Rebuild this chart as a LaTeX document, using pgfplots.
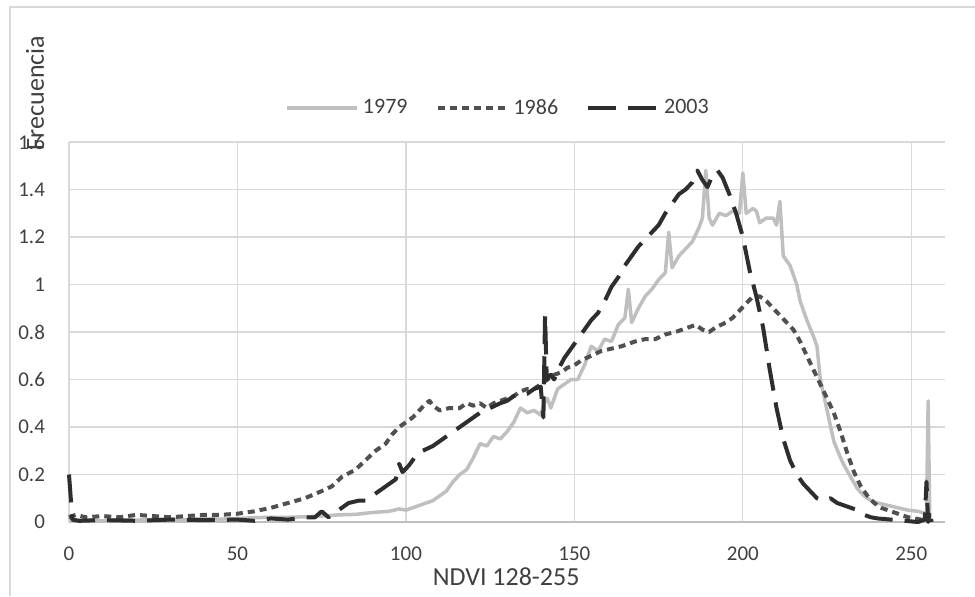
\documentclass[border=0pt]{standalone}
\usepackage{fontspec}
\setmainfont{Carlito}
\usepackage{pgfplots}
\pgfplotsset{compat=1.18}

\definecolor{gridc}{HTML}{D9D9D9}
\definecolor{textc}{HTML}{404040}
\definecolor{c79}{HTML}{BFBFBF}
\definecolor{c86}{HTML}{505050}
\definecolor{c03}{HTML}{2E2E2E}

\begin{document}
\begin{tikzpicture}
\path[use as bounding box] (-34.5pt,-37pt) rectangle (453pt,261pt);
\draw[gridc, line width=1pt] (-29.5pt,-37pt) -- (-29.5pt,257.25pt) -- (453pt,257.25pt);
\begin{axis}[
    at={(0,0)}, anchor=south west,
    scale only axis,
    width=438pt, height=190pt,
    xmin=0, xmax=260,
    ymin=0, ymax=1.6,
    xtick={0,50,100,150,200,250},
    ytick={0,0.2,0.4,0.6,0.8,1,1.2,1.4,1.6},
    grid=major,
    major grid style={gridc, line width=0.6pt},
    axis lines*=left,
    x axis line style={c79, line width=0.8pt, -},
    y axis line style={draw=none},
    major tick length=0pt,
    /pgf/number format/assume math mode=true,
    tick label style={font=\fontsize{10.5}{12}\selectfont, text=textc},
    yticklabel style={xshift=-8.5pt},
    xticklabel style={yshift=-9pt},
    xlabel={NDVI 128-255},
    ylabel={Frecuencia},
    label style={font=\fontsize{13}{15}\selectfont, text=textc},
    xlabel style={at={(rel axis cs:0.499,0)}, anchor=center, yshift=-27.5pt},
    ylabel style={at={(rel axis cs:0,1.129)}, anchor=center, yshift=17pt},
    legend columns=3,
    legend style={at={(rel axis cs:0.491,1.089)}, anchor=center, draw=none, fill=none,
        font=\fontsize{11}{13}\selectfont, text=textc,
        /tikz/every even column/.append style={column sep=12pt}},
    legend image code/.code={\draw[#1] (0pt,0pt) -- (35pt,0pt);},
    clip=false,
]
\addplot[c79, line width=1.75pt, line join=round] coordinates {
(0,0.02) (1,0.005) (5,0.01) (10,0.005) (15,0.01) (20,0.008) (25,0.01) (30,0.012) (35,0.01)
(40,0.015) (45,0.012) (50,0.015) (55,0.018) (60,0.02) (65,0.02) (70,0.022) (75,0.025)
(80,0.03) (85,0.032) (90,0.04) (95,0.045) (98,0.055) (100,0.05) (102,0.06) (105,0.075)
(108,0.09) (110,0.11) (112,0.13) (114,0.17) (116,0.2) (118,0.22) (120,0.27) (122,0.33)
(124,0.32) (126,0.36) (128,0.35) (130,0.38) (132,0.42) (134,0.48) (136,0.46) (138,0.47)
(140,0.45) (141,0.5) (142,0.52) (143,0.48) (145,0.56) (147,0.58) (149,0.6) (151,0.6)
(153,0.66) (155,0.74) (157,0.72) (159,0.77) (161,0.76) (163,0.83) (165,0.86) (166,0.98)
(167,0.84) (169,0.9) (171,0.95) (173,0.98) (175,1.02) (177,1.05) (178,1.22) (179,1.07)
(181,1.12) (183,1.15) (185,1.18) (187,1.24) (188,1.28) (189,1.48) (190,1.28) (191,1.25)
(193,1.3) (195,1.29) (197,1.31) (199,1.3) (200,1.47) (201,1.3) (203,1.32) (204,1.31)
(205,1.26) (207,1.28) (209,1.28) (210,1.25) (211,1.35) (212,1.12) (214,1.08) (216,1.0)
(217,0.93) (219,0.85) (221,0.78) (222,0.74) (223,0.6) (225,0.47) (227,0.34) (229,0.27)
(230,0.24) (232,0.19) (234,0.14) (236,0.11) (238,0.09) (240,0.08) (243,0.07) (246,0.06)
(249,0.05) (252,0.045) (254.5,0.035) (255,0.51) (255.5,0.0)
};
\addlegendentry{1979}
\addplot[c86, line width=2pt, dash pattern=on 3.5pt off 2.5pt, line join=round] coordinates {
(0,0.02) (2,0.03) (5,0.02) (10,0.025) (15,0.02) (20,0.03) (25,0.025) (30,0.02) (35,0.025)
(40,0.03) (45,0.03) (50,0.035) (55,0.045) (60,0.06) (65,0.08) (70,0.1) (75,0.13) (78,0.15)
(81,0.19) (85,0.22) (88,0.26) (91,0.3) (94,0.33) (96,0.37) (98,0.4) (100,0.42) (102,0.44)
(104,0.47) (106,0.5) (107,0.51) (108,0.49) (110,0.47) (113,0.48) (116,0.48) (118,0.5)
(120,0.49) (122,0.5) (124,0.48) (126,0.5) (128,0.51) (130,0.52) (132,0.53) (134,0.55)
(136,0.56) (138,0.56) (140,0.58) (142,0.6) (144,0.62) (146,0.63) (148,0.65) (150,0.66)
(152,0.68) (155,0.7) (158,0.72) (161,0.73) (164,0.74) (166,0.75) (168,0.76) (171,0.77)
(174,0.77) (177,0.79) (180,0.8) (182,0.81) (184,0.82) (186,0.83) (188,0.81) (190,0.8)
(192,0.82) (195,0.84) (197,0.86) (199,0.89) (201,0.92) (203,0.95) (205,0.95) (207,0.93)
(209,0.9) (211,0.87) (213,0.84) (215,0.81) (217,0.76) (219,0.7) (221,0.64) (223,0.58)
(225,0.52) (227,0.46) (229,0.38) (231,0.29) (233,0.21) (235,0.15) (237,0.11) (239,0.08)
(241,0.06) (243,0.05) (245,0.04) (247,0.03) (249,0.02) (251,0.015) (253,0.01) (255,0.005)
};
\addlegendentry{1986}
\addplot[c03, line width=2pt, dash pattern=on 14pt off 6pt, line join=round] coordinates {
(0,0.2) (1,0.01) (3,0.005) (10,0.008) (20,0.005) (30,0.01) (40,0.008) (50,0.01) (55,0.005)
(60,0.015) (65,0.01) (70,0.02) (73,0.02) (75,0.045) (77,0.02) (80,0.05) (83,0.08) (86,0.09)
(88,0.09) (90,0.11) (93,0.14) (95,0.16) (97,0.18) (98,0.245) (99,0.21) (101,0.24) (103,0.28)
(105,0.3) (108,0.32) (110,0.34) (112,0.36) (114,0.38) (117,0.41) (119,0.43) (121,0.45)
(123,0.47) (125,0.48) (128,0.5) (130,0.51) (132,0.53) (134,0.54) (136,0.54) (138,0.56)
(140,0.57) (140.8,0.44) (141.3,0.87) (141.8,0.6) (143,0.62) (144,0.6) (145.5,0.65) (147,0.69)
(149,0.73) (151,0.77) (153,0.81) (155,0.85) (157,0.88) (159,0.93) (161,0.99) (163,1.03)
(165,1.08) (167,1.12) (169,1.16) (171,1.19) (173,1.22) (175,1.25) (177,1.3) (179,1.34)
(181,1.38) (183,1.4) (185,1.43) (186.5,1.48) (188,1.44) (189.5,1.41) (191,1.46) (192.5,1.48)
(194,1.45) (196,1.38) (198,1.3) (200,1.2) (202,1.06) (204,0.95) (206,0.82) (208,0.64)
(210,0.48) (212,0.35) (214,0.26) (216,0.2) (218,0.16) (220,0.13) (222,0.1) (224,0.09)
(226,0.1) (228,0.08) (230,0.07) (232,0.06) (234,0.05) (236,0.03) (238,0.02) (240,0.015)
(244,0.01) (248,0.005) (252,0.0) (254,0.01) (254.5,0.17) (255,0.0) (255.5,0.05) (256,0)
};
\addlegendentry{2003}
\end{axis}
\end{tikzpicture}
\end{document}
